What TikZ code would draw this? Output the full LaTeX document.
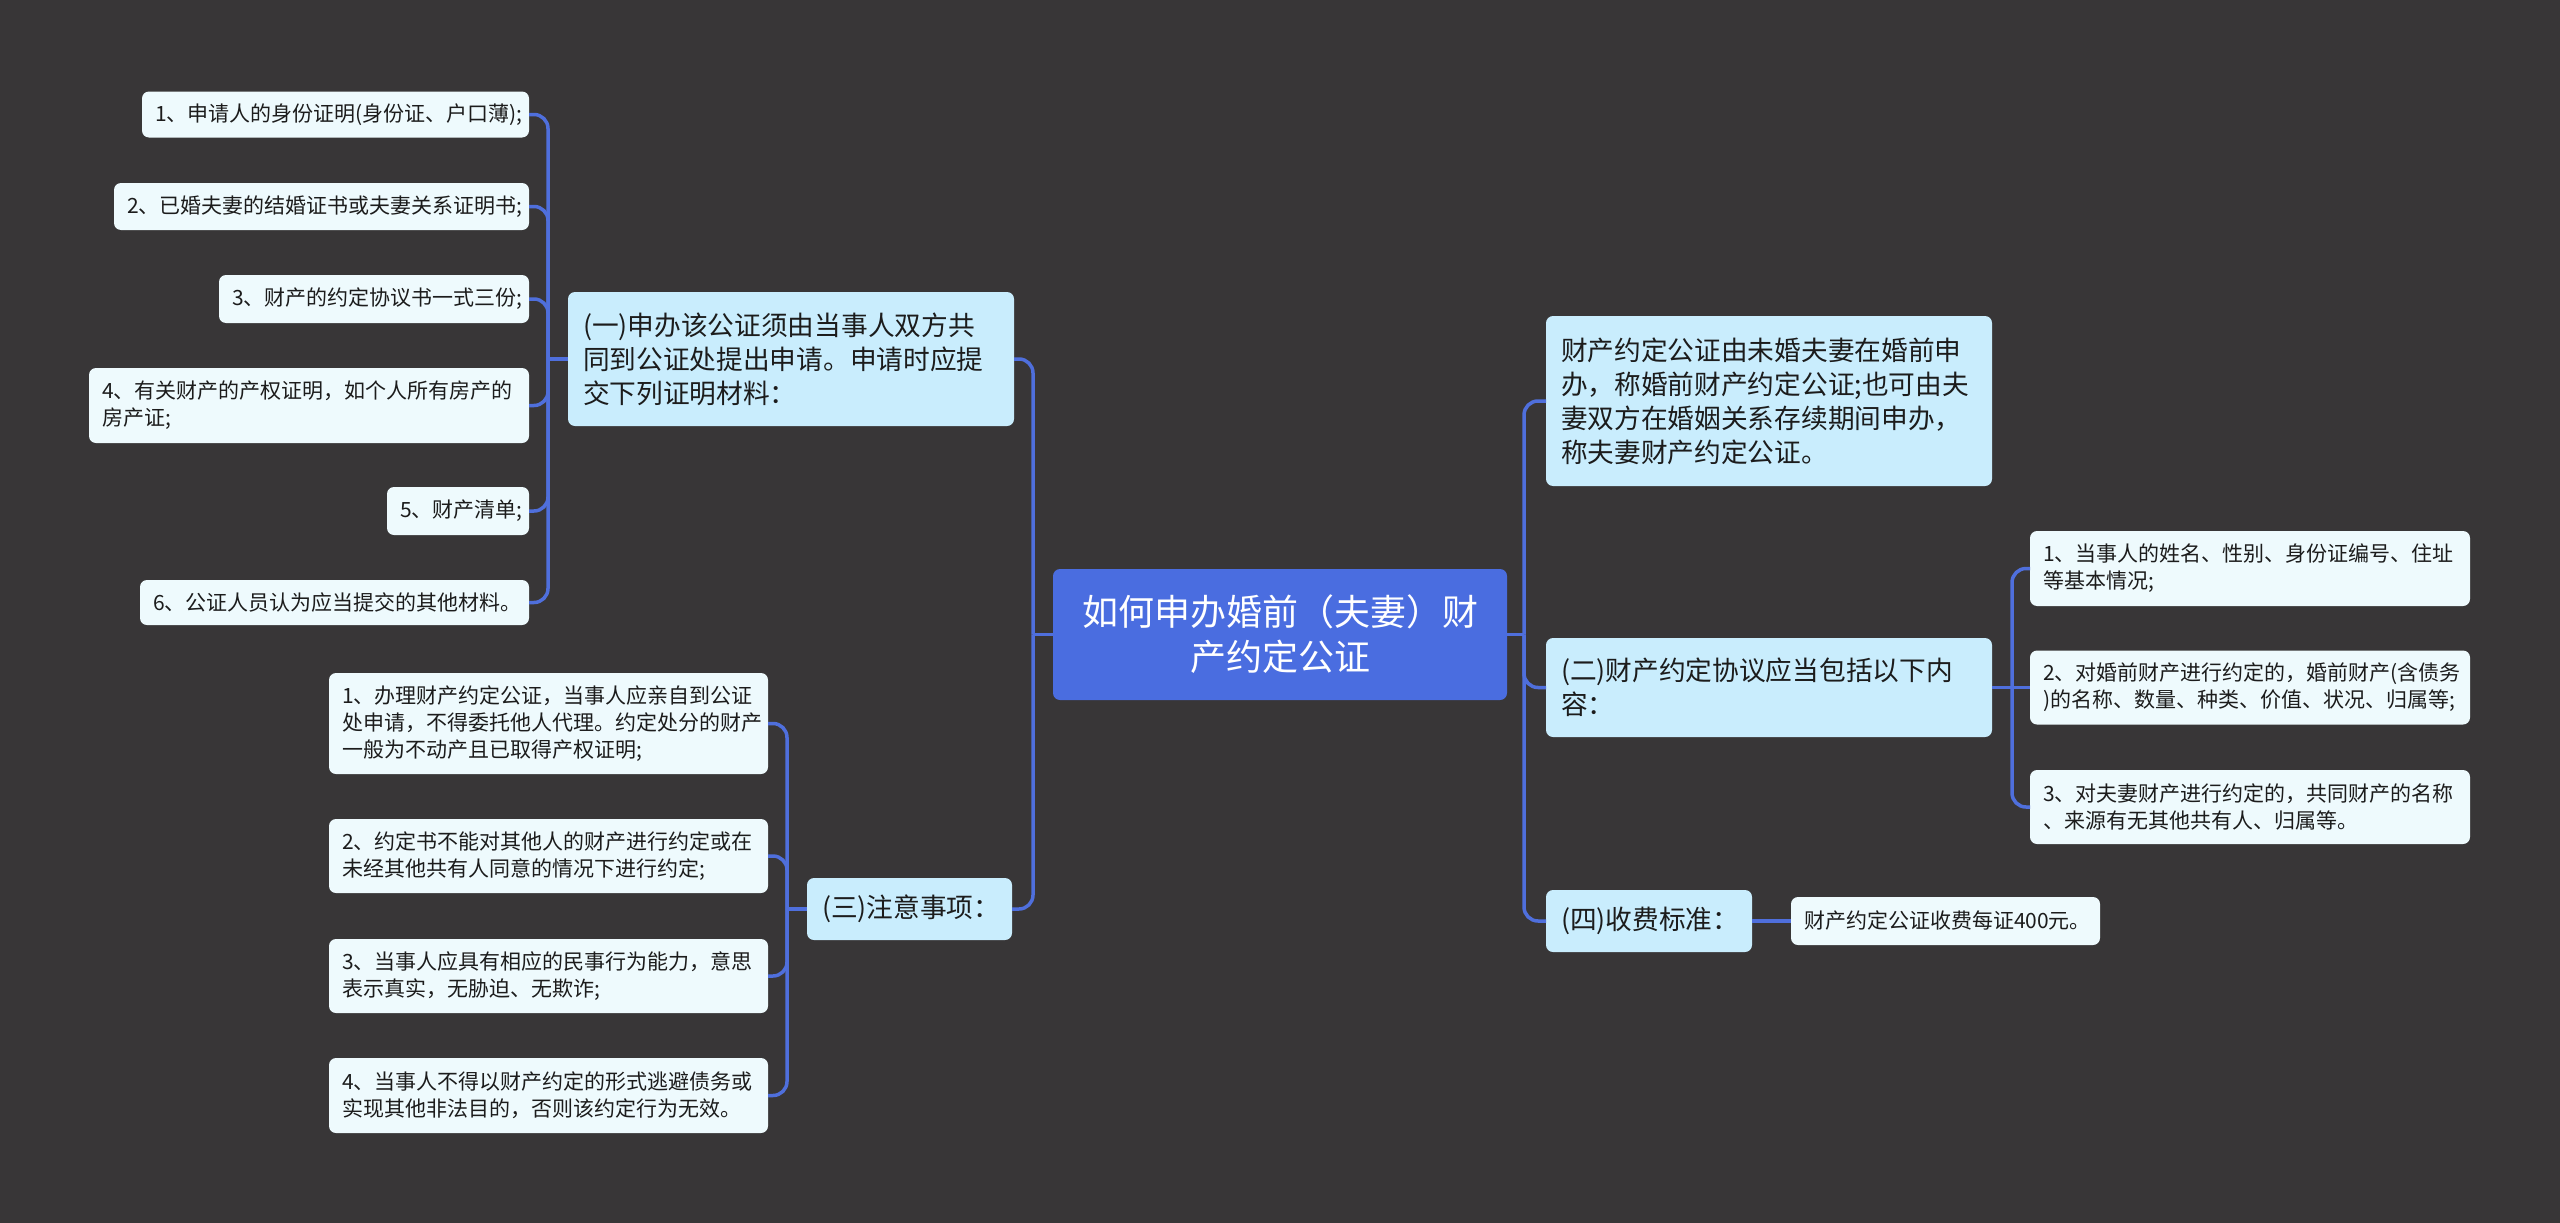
\documentclass[tikz,border=0pt]{standalone}
\usepackage{fontspec}
\setmainfont{Noto Sans CJK SC}
\definecolor{bgc}{HTML}{383637}
\definecolor{rootc}{HTML}{4A6DE0}
\definecolor{linec}{HTML}{4F6FDC}
\definecolor{lonec}{HTML}{C9EDFD}
\definecolor{ltwoc}{HTML}{EEFAFD}
\definecolor{txtc}{HTML}{1C1C1C}
\begin{document}
\begin{tikzpicture}[x=1pt,y=-1pt,
  box/.style={rounded corners=7pt, inner ysep=0pt, outer sep=0pt, anchor=center},
  rootbox/.style={box, fill=rootc, text=white, font=\fontsize{36pt}{45pt}\selectfont, align=center, inner xsep=20pt},
  lone/.style={box, fill=lonec, text=txtc, font=\fontsize{26.7pt}{34pt}\selectfont, align=left, inner xsep=15pt},
  ltwo/.style={box, fill=ltwoc, text=txtc, font=\fontsize{21pt}{27pt}\selectfont, align=left, inner xsep=13pt},
  conn/.style={draw=linec, line width=3.5pt, rounded corners=14pt}]
\fill[bgc] (0,0) rectangle (2560,1223);
\useasboundingbox (0,0) rectangle (2560,1223);

% root
\node[rootbox, text width=414pt, minimum height=131pt] (root) at (1280,634.5) {如何申办婚前（夫妻）财\\产约定公证};

% level 1
\node[lone, text width=416pt, minimum height=134pt] (n1) at (791,359) {(一)申办该公证须由当事人双方共\\同到公证处提出申请。申请时应提\\交下列证明材料：};
\node[lone, text width=175pt, minimum height=62pt] (n3) at (909.5,909) {(三)注意事项：};
\node[lone, text width=416pt, minimum height=170pt] (na) at (1769,401) {财产约定公证由未婚夫妻在婚前申\\办，称婚前财产约定公证;也可由夫\\妻双方在婚姻关系存续期间申办，\\称夫妻财产约定公证。};
\node[lone, text width=416pt, minimum height=99pt] (n2) at (1769,687.5) {(二)财产约定协议应当包括以下内\\容：};
\node[lone, text width=176pt, minimum height=62pt] (n4) at (1649,921) {(四)收费标准：};

% children of (一)
\node[ltwo, text width=361pt, minimum height=46pt] (c1) at (335.5,114.5) {1、申请人的身份证明(身份证、户口薄);};
\node[ltwo, text width=389pt, minimum height=47pt] (c2) at (321.5,206.5) {2、已婚夫妻的结婚证书或夫妻关系证明书;};
\node[ltwo, text width=284pt, minimum height=48pt] (c3) at (374,299) {3、财产的约定协议书一式三份;};
\node[ltwo, text width=414pt, minimum height=75pt] (c4) at (309,405.5) {4、有关财产的产权证明，如个人所有房产的\\房产证;};
\node[ltwo, text width=116pt, minimum height=48pt] (c5) at (458,511) {5、财产清单;};
\node[ltwo, text width=363pt, minimum height=45pt] (c6) at (334.5,602.5) {6、公证人员认为应当提交的其他材料。};

% children of (三)
\node[ltwo, text width=413pt, minimum height=101pt] (d1) at (548.5,723.5) {1、办理财产约定公证，当事人应亲自到公证\\处申请，不得委托他人代理。约定处分的财产\\一般为不动产且已取得产权证明;};
\node[ltwo, text width=413pt, minimum height=74pt] (d2) at (548.5,856) {2、约定书不能对其他人的财产进行约定或在\\未经其他共有人同意的情况下进行约定;};
\node[ltwo, text width=413pt, minimum height=74pt] (d3) at (548.5,976) {3、当事人应具有相应的民事行为能力，意思\\表示真实，无胁迫、无欺诈;};
\node[ltwo, text width=413pt, minimum height=75pt] (d4) at (548.5,1095.5) {4、当事人不得以财产约定的形式逃避债务或\\实现其他非法目的，否则该约定行为无效。};

% children of (二)
\node[ltwo, text width=414pt, minimum height=75pt] (e1) at (2250,568.5) {1、当事人的姓名、性别、身份证编号、住址\\等基本情况;};
\node[ltwo, text width=414pt, minimum height=74pt] (e2) at (2250,687.5) {2、对婚前财产进行约定的，婚前财产(含债务\\)的名称、数量、种类、价值、状况、归属等;};
\node[ltwo, text width=414pt, minimum height=74pt] (e3) at (2250,807) {3、对夫妻财产进行约定的，共同财产的名称\\、来源有无其他共有人、归属等。};

% child of (四)
\node[ltwo, text width=283pt, minimum height=48pt] (f1) at (1945.5,921) {财产约定公证收费每证400元。};

% spine coordinates
\coordinate (LS) at (1033,634.5);
\coordinate (RS) at (1524,634.5);
\coordinate (S1) at (548,359);
\coordinate (S3) at (787,909);
\coordinate (S2) at (2012,687.5);

% connectors
\draw[conn] (root.west) -- (LS);
\draw[conn] (LS) |- (n1.east);
\draw[conn] (LS) |- (n3.east);
\draw[conn] (root.east) -- (RS);
\draw[conn] (RS) |- (na.west);
\draw[conn] (RS) |- (n2.west);
\draw[conn] (RS) |- (n4.west);

\draw[conn] (n1.west) -- (S1);
\foreach \c in {c1,c2,c3,c4,c5,c6} { \draw[conn] (S1) |- (\c.east); }

\draw[conn] (n3.west) -- (S3);
\foreach \c in {d1,d2,d3,d4} { \draw[conn] (S3) |- (\c.east); }

\draw[conn] (n2.east) -- (e2.west);
\draw[conn] (S2) |- (e1.west);
\draw[conn] (S2) |- (e3.west);

\draw[conn] (n4.east) -- (f1.west);
\end{tikzpicture}
\end{document}
